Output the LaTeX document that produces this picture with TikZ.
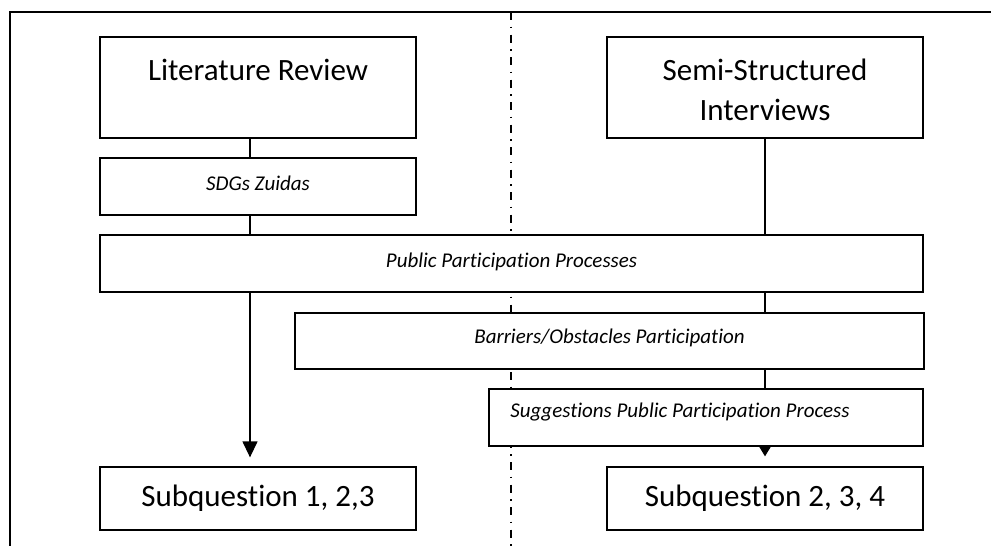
\documentclass[tikz,border=0pt]{standalone}
\usepackage{fontspec}
\setmainfont{Carlito}[Ligatures=NoCommon]
\usetikzlibrary{arrows.meta}
\begin{document}
\begin{tikzpicture}[x=1pt,y=-1pt,
  box/.style={draw=black, fill=white, line width=1.3pt, inner sep=0pt, anchor=base},
  big/.style={font=\fontsize{31}{40}\selectfont},
  small/.style={font=\fontsize{21}{25}\selectfont\itshape},
  conn/.style={draw=black, line width=1.3pt},
  arrA/.style={conn, -{Triangle[length=16pt,width=15pt]}, shorten >=9pt},
  arrB/.style={conn, -{Triangle[length=11pt,width=13pt]}, shorten >=10pt},
  frame/.style={draw=black, line width=1.8pt},
  divider/.style={draw=black, line width=1.5pt, dash pattern=on 8pt off 6.5pt on 1.5pt off 6.5pt}
]
\useasboundingbox (0,0) rectangle (991,546);
% frame and divider
\coordinate (fTL) at (10,12);
\coordinate (fTR) at (991,12);
\coordinate (fBL) at (10,546);
\coordinate (dTop) at (511,12);
\coordinate (dBot) at (511,546);
\draw[frame] (fBL) -- (fTL) -- (fTR);
\draw[divider] (dTop) -- (dBot);
% columns
\coordinate (colL) at (250,0);
\coordinate (colR) at (765,0);
% boxes
\node[box, big, minimum width=316pt, text height=43pt, text depth=58pt] (LR) at (258,80) {Literature Review};
\node[box, big, minimum width=316pt, text height=43pt, text depth=58pt] (Semi) at (765,80)
  {\vtop{\baselineskip=40pt\hbox to 300pt{\hss Semi-Structured\hss}\hbox to 300pt{\hss Interviews\hss}}};
\node[box, small, minimum width=316pt, text height=32pt, text depth=25pt] (SDG) at (258,190) {SDGs Zuidas};
\node[box, small, minimum width=823pt, text height=32pt, text depth=25pt] (PPP) at (511.5,267) {Public Participation Processes};
\node[box, small, minimum width=629pt, text height=30pt, text depth=26pt] (Bar) at (609.5,343) {Barriers/Obstacles Participation};
\node[box, small, minimum width=434pt, text height=28pt, text depth=29pt] (Sug) at (706,417) {Suggestions Public Participation Process\hspace*{52pt}};
\node[box, big, minimum width=316pt, text height=39pt, text depth=24pt] (Sub1) at (258,506) {Subquestion 1, 2,3};
\node[box, big, minimum width=316pt, text height=39pt, text depth=24pt] (Sub2) at (765,506) {Subquestion 2, 3, 4};
% connectors
\draw[conn] (LR.south -| colL) -- (SDG.north -| colL);
\draw[conn] (SDG.south -| colL) -- (PPP.north -| colL);
\draw[arrA] (PPP.south -| colL) -- (Sub1.north -| colL);
\draw[conn] (Semi.south -| colR) -- (PPP.north -| colR);
\draw[conn] (PPP.south -| colR) -- (Bar.north -| colR);
\draw[conn] (Bar.south -| colR) -- (Sug.north -| colR);
\draw[arrB] (Sug.south -| colR) -- (Sub2.north -| colR);
\end{tikzpicture}
\end{document}
